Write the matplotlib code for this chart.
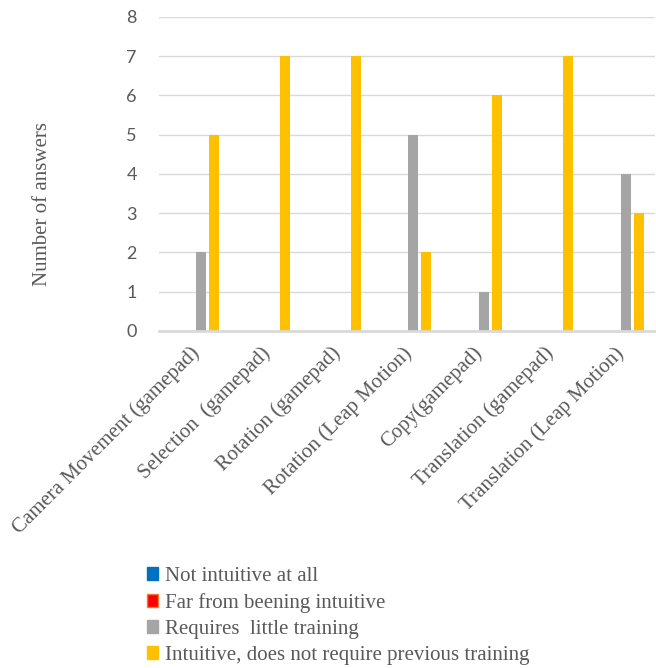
import matplotlib
matplotlib.use("Agg")
import matplotlib.pyplot as plt
import matplotlib.transforms as mtransforms
import numpy as np

# Survey answers per interaction task
categories = [
    "Camera Movement (gamepad)",
    "Selection  (gamepad)",
    "Rotation (gamepad)",
    "Rotation (Leap Motion)",
    "Copy(gamepad)",
    "Translation (gamepad)",
    "Translation (Leap Motion)",
]
series_names = [
    "Not intuitive at all",
    "Far from beening intuitive",
    "Requires  little training",
    "Intuitive, does not require previous training",
]
not_intuitive = [0, 0, 0, 0, 0, 0, 0]
far_from_intuitive = [0, 0, 0, 0, 0, 0, 0]
little_training = [2, 0, 0, 5, 1, 0, 4]
intuitive = [5, 7, 7, 2, 6, 7, 3]
y_ticks = [0, 1, 2, 3, 4, 5, 6, 7, 8]

colors = ["#0070C0", "#FF0000", "#A5A5A5", "#FFC000"]
edge_colors = ["#0070C0", "#ED7D31", "#A5A5A5", "#FFC000"]
text_color = "#595959"
grid_color = "#D9D9D9"

fig = plt.figure(figsize=(6.56, 6.68), dpi=100)
ax = fig.add_axes([0.2425, 0.5045, 0.7555, 0.4701])

x = np.arange(len(categories))
bar_w = 0.141
step = 0.184
values = [not_intuitive, far_from_intuitive, little_training, intuitive]
handles = []
for k, (vals, col, ec, name) in enumerate(zip(values, colors, edge_colors, series_names)):
    offs = (k - 1.5) * step
    ax.bar(x + offs, vals, width=bar_w, color=col, linewidth=0, zorder=3)
    handles.append(plt.Rectangle((0, 0), 1, 1, facecolor=col, edgecolor=ec, linewidth=1.0))

ax.set_xlim(-0.5, len(categories) - 0.5)
ax.set_ylim(0, 8)
ax.set_yticks(y_ticks)
ax.yaxis.grid(True, color=grid_color, linewidth=1.0, zorder=0)
ax.set_axisbelow(True)

for side in ("top", "right", "left"):
    ax.spines[side].set_visible(False)
ax.spines["bottom"].set_color(grid_color)
ax.spines["bottom"].set_linewidth(2.0)
ax.spines["bottom"].set_zorder(4)

ax.tick_params(axis="both", length=0)
ax.tick_params(axis="y", pad=16, labelsize=13, labelcolor=text_color)
for lbl in ax.get_yticklabels():
    lbl.set_fontfamily("Lato")

ax.set_xticks(x)
ax.set_xticklabels(categories, rotation=45, ha="right", va="top",
                   rotation_mode="anchor", fontsize=15,
                   family="Liberation Serif", color=text_color)
ax.tick_params(axis="x", pad=9)
shift = mtransforms.ScaledTranslation(-5 / 100, 0, fig.dpi_scale_trans)
for lbl in ax.get_xticklabels():
    lbl.set_transform(lbl.get_transform() + shift)

ax.set_ylabel("Number of answers", fontsize=15, family="Liberation Serif",
              color=text_color)
ax.yaxis.set_label_coords(-0.217, 0.404)

leg = fig.legend(handles, series_names, loc="upper left",
                 bbox_to_anchor=(0.224, 0.151), frameon=False,
                 prop={"family": "Liberation Serif", "size": 15},
                 handlelength=0.55, handleheight=0.6, handletextpad=0.3,
                 labelspacing=0.33, borderpad=0, borderaxespad=0)
for t in leg.get_texts():
    t.set_color(text_color)

fig.savefig("out.png", dpi=100)
